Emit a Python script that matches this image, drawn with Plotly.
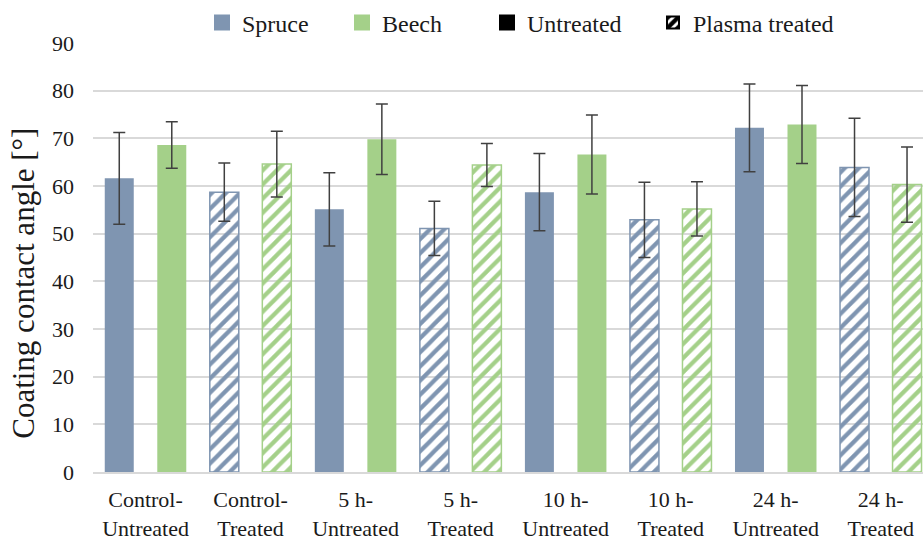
import plotly.graph_objects as go

# Treatment groups shown along the x axis
categories = [
    "Control-<br>Untreated", "Control-<br>Treated",
    "5 h-<br>Untreated", "5 h-<br>Treated",
    "10 h-<br>Untreated", "10 h-<br>Treated",
    "24 h-<br>Untreated", "24 h-<br>Treated",
]
# Plasma treated groups are drawn hatched
treated = [False, True, False, True, False, True, False, True]

# Mean coating contact angle [°] and standard deviation
spruce = [61.6, 58.7, 55.1, 51.1, 58.7, 52.9, 72.2, 63.9]
spruce_sd = [9.6, 6.1, 7.7, 5.7, 8.1, 7.9, 9.2, 10.3]
beech = [68.6, 64.6, 69.8, 64.4, 66.6, 55.2, 72.9, 60.3]
beech_sd = [4.9, 6.9, 7.4, 4.5, 8.3, 5.7, 8.2, 7.9]

y_ticks = [0, 10, 20, 30, 40, 50, 60, 70, 80, 90]

SPRUCE = "#7f95b1"
BEECH = "#a4d089"
ERR = "#404040"
GRID = "#d9d9d9"
TEXT = "#1a1a1a"
FONT = "Liberation Serif"

BAR_W = 0.276


def wood_bar(name, values, sd, color, offset):
    n = len(values)
    return go.Bar(
        name=name,
        x=categories,
        y=values,
        width=BAR_W,
        offset=offset,
        showlegend=False,
        marker=dict(
            color=[color] * n,
            line=dict(color=color, width=[1.5 if t else 0 for t in treated]),
            pattern=dict(
                shape=["/" if t else "" for t in treated],
                fgcolor=[color] * n,
                bgcolor=["white"] * n,
                fgopacity=1,
                fillmode="replace",
                size=10,
                solidity=0.42,
            ),
        ),
        error_y=dict(type="data", array=sd, visible=True,
                     color=ERR, thickness=1.5, width=6),
    )


fig = go.Figure()
fig.add_trace(wood_bar("Spruce", spruce, spruce_sd, SPRUCE, -0.25 - BAR_W / 2))
fig.add_trace(wood_bar("Beech", beech, beech_sd, BEECH, 0.25 - BAR_W / 2))

# Legend entries (one legend each so they can be placed freely)
legend_items = [
    ("Spruce", SPRUCE, "legend"),
    ("Beech", BEECH, "legend2"),
    ("Untreated", "black", "legend3"),
]
for label, col, lg in legend_items:
    fig.add_trace(go.Scatter(
        x=[None], y=[None], mode="markers", name=label, legend=lg,
        marker=dict(symbol="square", size=16, color=col),
        showlegend=True,
    ))
fig.add_trace(go.Bar(
    x=[None], y=[None], name="Plasma treated", legend="legend4",
    showlegend=True,
    marker=dict(
        color="black", line=dict(color="black", width=2),
        pattern=dict(shape="/", fgcolor="black", bgcolor="white",
                     fgopacity=1, fillmode="replace", size=9, solidity=0.6),
    ),
))

L, PW = 93, 830
T, PH = 39.3, 432.4


def px_x(px):
    return (px - L) / PW


def px_y(py):
    return (T + PH - py) / PH


legend_common = dict(
    orientation="h", xanchor="left", yanchor="middle",
    bgcolor="rgba(0,0,0,0)", borderwidth=0,
    font=dict(family=FONT, size=24, color=TEXT),
    itemclick=False, itemdoubleclick=False,
)
leg_y = px_y(19)

fig.update_layout(
    width=923, height=543,
    margin=dict(l=L, r=0, t=T, b=543 - T - PH, pad=0),
    paper_bgcolor="white", plot_bgcolor="white",
    barmode="overlay",
    font=dict(family=FONT, size=22, color=TEXT),
    legend=dict(x=px_x(202), y=leg_y, **legend_common),
    legend2=dict(x=px_x(342), y=leg_y, **legend_common),
    legend3=dict(x=px_x(487), y=leg_y, **legend_common),
    legend4=dict(x=px_x(653), y=leg_y, **legend_common),
    xaxis=dict(
        range=[-0.5, 7.402],
        showgrid=False, showline=True, linecolor=GRID, linewidth=1.5,
        ticks="", ticklabelstandoff=7,
        tickfont=dict(family=FONT, size=22, color=TEXT),
    ),
    yaxis=dict(
        range=[0, 90], tickvals=y_ticks,
        showgrid=True, gridcolor=GRID, gridwidth=1.5,
        zeroline=False, showline=False, ticks="",
        ticklabelstandoff=18,
        tickfont=dict(family=FONT, size=22, color=TEXT),
    ),
    annotations=[dict(
        text="Coating contact angle [°]",
        xref="paper", yref="paper",
        x=px_x(24), y=px_y(282),
        xanchor="center", yanchor="middle",
        textangle=-90, showarrow=False,
        font=dict(family=FONT, size=31, color=TEXT),
    )],
)

fig.write_html("out.html")
